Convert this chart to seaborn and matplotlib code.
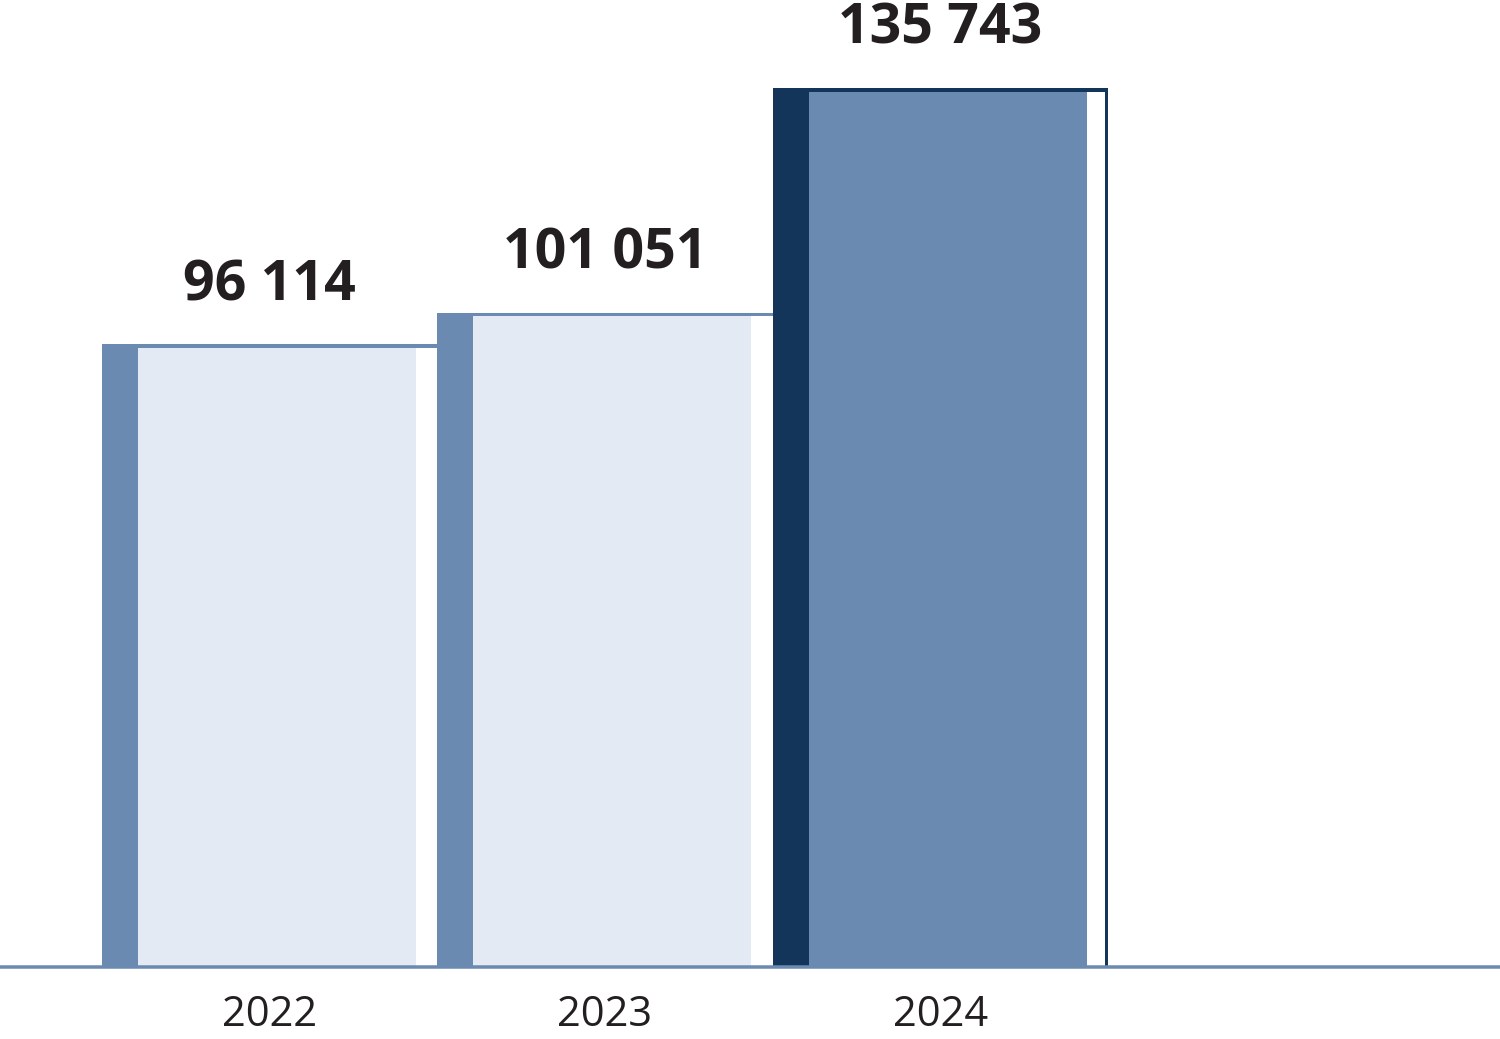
import numpy as np
import pandas as pd
import matplotlib
matplotlib.use("Agg")
import matplotlib.pyplot as plt
import seaborn as sns

# Data
years = ["2022", "2023", "2024"]
values = [96114, 101051, 135743]

# Colours per bar
strip_colors = ["#6a8ab1", "#6a8ab1", "#13355a"]
fill_colors = ["#e4eaf4", "#e4eaf4", "#6a8ab1"]

sns.set_theme(style="white")
plt.rcParams["font.family"] = ["Open Sans", "DejaVu Sans"]

W, H = 1500, 1039
fig = plt.figure(figsize=(W / 100, H / 100), dpi=100)

base_px = 966.5  # baseline, pixels from top
ax = fig.add_axes([0, (H - base_px) / H, 1, base_px / H])

df = pd.DataFrame({"year": years, "value": values})
sns.barplot(data=df, x="year", y="value", hue="year", palette=strip_colors,
            width=1.0, saturation=1, legend=False, linewidth=0,
            edgecolor="none", ax=ax, zorder=1)

# scales: tallest bar top at 88 px, bars 335.5 px wide
ytop = max(values) * base_px / (base_px - 88)
unit_px = 335.5
px_y = ytop / base_px
line_h = 3.5 * px_y

strip_w = 36 / unit_px
fill_w = 278 / unit_px
# white gap runs to the edge, only the last bar keeps a border on the right
white_w = np.full(len(values), 1 - strip_w - fill_w)
white_w[-1] -= 3.5 / unit_px

pos = np.arange(len(values))
vals = np.array(values, dtype=float)
ax.bar(pos - 0.5 + strip_w, vals - line_h, width=fill_w, align="edge",
       color=fill_colors, linewidth=0, zorder=2)
ax.bar(pos - 0.5 + strip_w + fill_w, vals - line_h, width=white_w, align="edge",
       color="white", linewidth=0, zorder=2)

ax.axhline(0, color="#6a8ab1", lw=3.5 * 0.72, clip_on=False, zorder=3)

for i, v in enumerate(values):
    ax.annotate(f"{v:,}".replace(",", " "), (i, v), xytext=(0, 32),
                textcoords="offset points", ha="center", va="baseline",
                fontsize=40, fontweight="bold", color="#231f20")

x0 = -269.5 / unit_px
ax.set_xlim(x0, x0 + W / unit_px)
ax.set_ylim(0, ytop)

ax.set_xticks(pos)
ax.set_xticklabels(years, fontsize=30, color="#231f20")
ax.tick_params(axis="x", length=0, pad=20)
ax.set_yticks([])
ax.set_xlabel("")
ax.set_ylabel("")
for s in ax.spines.values():
    s.set_visible(False)

fig.savefig("out.png", dpi=100, facecolor="white")
